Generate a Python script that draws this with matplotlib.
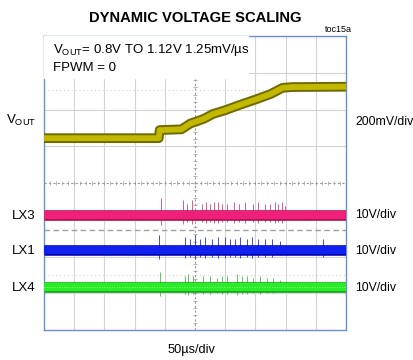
import matplotlib.pyplot as plt
import matplotlib.patheffects as pe
from matplotlib import rcParams

rcParams['font.family'] = ['Liberation Sans', 'DejaVu Sans']

# scope screen: 10 x 8 divisions, values read in divisions
vout_t = [0, 3.80, 3.83, 4.55, 4.85, 5.00, 5.30, 5.60, 6.00, 6.50, 7.00, 7.50, 7.90, 8.20, 10]
vout_v = [5.22, 5.22, 5.44, 5.46, 5.62, 5.66, 5.75, 5.88, 5.98, 6.13, 6.27, 6.42, 6.59, 6.61, 6.62]

lx3_level = 3.13
lx1_level = 2.18
lx4_level = 1.17
gnd_dash = 2.72

lx3_spike_t = [3.87, 4.60, 4.74, 4.90, 5.23, 5.36, 5.50, 5.63, 5.76, 5.89, 6.06, 6.29,
               6.46, 6.66, 6.92, 7.09, 7.32, 7.49, 7.65, 7.75, 7.88, 7.98]
lx3_spike_h = [0.45, 0.40, 0.30, 0.40, 0.30, 0.35, 0.30, 0.35, 0.35, 0.30, 0.30, 0.35,
               0.30, 0.35, 0.30, 0.35, 0.30, 0.30, 0.35, 0.30, 0.35, 0.25]

lx1_spike_t = [3.81, 4.67, 4.83, 5.00, 5.17, 5.33, 5.56, 5.76, 5.99, 6.16, 6.32, 6.49,
               6.72, 6.89, 7.09, 7.32, 7.55, 7.81, 9.24]
lx1_spike_h = [0.40, 0.35, 0.30, 0.40, 0.30, 0.35, 0.30, 0.35, 0.35, 0.30, 0.30, 0.35,
               0.30, 0.35, 0.30, 0.30, 0.30, 0.25, 0.30]

lx4_spike_t = [3.84, 4.66, 4.76, 4.93, 5.26, 5.50, 5.73, 5.89, 6.06, 6.39, 6.56, 6.72,
               6.92, 7.15, 7.38, 7.58, 7.81]
lx4_spike_h = [0.40, 0.30, 0.35, 0.30, 0.30, 0.30, 0.25, 0.30, 0.30, 0.35, 0.30, 0.30,
               0.25, 0.30, 0.25, 0.25, 0.20]

fig = plt.figure(figsize=(4.14, 3.6), dpi=100)
ax = fig.add_axes([44 / 414, 30 / 360, 302 / 414, 294 / 360])
ax.set_xlim(0, 10)
ax.set_ylim(0, 8)

# graticule
for gx in range(1, 10):
    if gx == 5:
        continue
    ax.axvline(gx, color='#d4d4d4', lw=0.8, zorder=1)
for gy in range(1, 8):
    if gy == 4:
        continue
    ax.axhline(gy, color='#d4d4d4', lw=0.8, zorder=1)
ax.axvline(5, color='#999999', lw=0.8, ls=(0, (2, 2)), zorder=1)
ax.axhline(4, color='#999999', lw=0.8, ls=(0, (2, 2)), zorder=1)
ticks = [i / 5 for i in range(51)]
ax.plot(ticks, [4] * len(ticks), ls='none', marker='|', ms=3, mew=0.5, color='#999999', zorder=1)
ticks_y = [i / 5 for i in range(41)]
ax.plot([5] * len(ticks_y), ticks_y, ls='none', marker='_', ms=3, mew=0.5, color='#999999', zorder=1)
ax.axhline(6.53, color='#cccccc', lw=0.7, ls=(0, (1, 3)), zorder=1)
ax.axhline(1.5, color='#cccccc', lw=0.7, ls=(0, (1, 3)), zorder=1)
ax.axhline(gnd_dash, color='#a0a0a0', lw=1.0, ls=(0, (4, 2.5)), zorder=2)

# annotation box covering the grid
ax.add_patch(plt.Rectangle((0, 6.85), 6.75, 1.15, color='white', zorder=3))

# switching traces: spikes then bands
ax.vlines(lx3_spike_t, [lx3_level - h * 0.6 for h in lx3_spike_h],
          [lx3_level + h for h in lx3_spike_h], color='#d8407e', lw=0.6, zorder=4)
ax.vlines(lx1_spike_t, [lx1_level - h * 0.6 for h in lx1_spike_h],
          [lx1_level + h for h in lx1_spike_h], color='#2030d8', lw=0.6, zorder=4)
ax.vlines(lx4_spike_t, [lx4_level - h * 0.6 for h in lx4_spike_h],
          [lx4_level + h for h in lx4_spike_h], color='#40c040', lw=0.6, zorder=4)

bands = [
    (lx3_level, '#a8104e', '#f0207a'),
    (lx1_level, '#0000a8', '#1020f0'),
    (lx4_level, '#109a10', '#28ee28'),
]
for level, edge, fill in bands:
    ax.plot([0, 10], [level, level], color=fill, lw=6.0, solid_capstyle='butt', zorder=5,
            path_effects=[pe.Stroke(linewidth=7.6, foreground=edge), pe.Normal()])
ax.plot([0, 10], [lx4_level, lx4_level], color='#b0ffb0', lw=0.6, ls=(0, (1, 2)), zorder=6)

ax.plot(vout_t, vout_v, color='#c2b800', lw=4.2, solid_capstyle='butt', zorder=5,
        path_effects=[pe.Stroke(linewidth=7.0, foreground='#6e6a00'), pe.Normal()])

for s in ax.spines.values():
    s.set_color('#6a90d0')
    s.set_linewidth(1.0)
ax.set_xticks([])
ax.set_yticks([])

ax.text(0.3, 7.62, r'V$_{\mathregular{OUT}}$= 0.8V TO 1.12V 1.25mV/µs', fontsize=9.5,
        va='center', ha='left', zorder=7)
ax.text(0.3, 7.12, 'FPWM = 0', fontsize=9.5, va='center', ha='left', zorder=7)

# labels outside the screen
fig.text(195 / 414, 1 - 18 / 360, 'DYNAMIC VOLTAGE SCALING', fontsize=10.6, fontweight='bold',
         ha='center', va='center')
fig.text(352 / 414, 1 - 29 / 360, 'toc15a', fontsize=6.5, ha='right', va='center')
fig.text(36 / 414, 1 - 120 / 360, r'V$_{\mathregular{OUT}}$', fontsize=9.5, ha='right', va='center')
for lbl, py in [('LX3', 216), ('LX1', 251), ('LX4', 288)]:
    fig.text(36 / 414, 1 - py / 360, lbl, fontsize=9.5, ha='right', va='center')
fig.text(355 / 414, 1 - 122 / 360, '200mV/div', fontsize=8.8, ha='left', va='center')
for py in [215, 251, 288]:
    fig.text(355 / 414, 1 - py / 360, '10V/div', fontsize=8.8, ha='left', va='center')
fig.text(191 / 414, 1 - 350 / 360, '50µs/div', fontsize=9.2, ha='center', va='center')

fig.savefig('out.png', dpi=100)
